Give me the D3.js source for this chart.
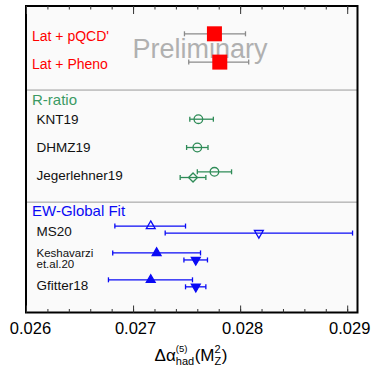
<!DOCTYPE html>
<html>
<head>
<meta charset="utf-8">
<script src="https://cdn.jsdelivr.net/npm/d3@7"></script>
<style>
  body { margin: 0; background: #fff; }
  svg { display: block; font-family: "Liberation Sans", Arial, Helvetica, sans-serif; }
</style>
</head>
<body>
<svg id="chart" width="375" height="368"></svg>
<script>
// lattice results
const latLabels = ["Lat + pQCD'", "Lat + Pheno"];
const latVal = [0.02776, 0.02781];
const latLo = [0.02748, 0.02752];
const latHi = [0.02805, 0.02808];

// R-ratio (circles) + Jegerlehner alternative (diamond)
const rLabels = ['KNT19', 'DHMZ19', 'Jegerlehner19'];
const rVal = [0.02761, 0.02760, 0.02776];
const rLo = [0.02753, 0.02750, 0.02760];
const rHi = [0.02775, 0.02770, 0.02792];
const jegAltVal = 0.02756;
const jegAltLo = 0.02744;
const jegAltHi = 0.02768;

// EW global fits: up triangles and down triangles
const ewLabels = [['MS20'], ['Keshavarzi', 'et.al.20'], ['Gfitter18']];
const ewUpVal = [0.027165, 0.02722, 0.027165];
const ewUpLo = [0.02683, 0.02681, 0.02677];
const ewUpHi = [0.02749, 0.02763, 0.027555];
const ewDownVal = [0.028175, 0.027586, 0.027586];
const ewDownLo = [0.02730, 0.027475, 0.02749];
const ewDownHi = [0.02905, 0.027695, 0.02768];

const xTicksMajor = [0.026, 0.027, 0.028, 0.029];

const red = '#ff0000', green = '#2e8b57', blue = '#0a0af5', gray = '#8a8a8a';

const svg = d3.select('#chart');
const frame = {left: 26, right: 357.5, top: 6, bottom: 312.5};

const x = d3.scaleLinear().domain([0.026, 0.0291]).range([26, 357.9]);
// vertical layout in "row" units
const y = d3.scaleLinear().domain([0, 10.83]).range([frame.top, frame.bottom]);

svg.append('rect')
  .attr('x', frame.left).attr('y', frame.top)
  .attr('width', frame.right - frame.left).attr('height', frame.bottom - frame.top)
  .attr('fill', '#fafafa');

// separators
[2.97, 6.93].forEach(r => {
  svg.append('line')
    .attr('x1', frame.left).attr('x2', frame.right)
    .attr('y1', y(r)).attr('y2', y(r))
    .attr('stroke', '#9a9a9a').attr('stroke-width', 1);
});

// watermark
svg.append('text')
  .attr('x', 200).attr('y', 58)
  .attr('text-anchor', 'middle')
  .attr('font-size', 27)
  .attr('fill', '#b0b0b0')
  .text('Preliminary');

function errBar(v, lo, hi, yy, color) {
  const g = svg.append('g').attr('stroke', color).attr('stroke-width', 1.3).attr('fill', 'none');
  g.append('line').attr('x1', x(lo)).attr('x2', x(hi)).attr('y1', yy).attr('y2', yy);
  g.append('line').attr('x1', x(lo)).attr('x2', x(lo)).attr('y1', yy - 2.5).attr('y2', yy + 2.5);
  g.append('line').attr('x1', x(hi)).attr('x2', x(hi)).attr('y1', yy - 2.5).attr('y2', yy + 2.5);
}

function symbol(type, size, v, yy, color, filled, rot) {
  svg.append('path')
    .attr('d', d3.symbol().type(type).size(size)())
    .attr('transform', `translate(${x(v)},${yy}) rotate(${rot || 0})`)
    .attr('fill', filled ? color : 'none')
    .attr('stroke', color)
    .attr('stroke-width', 1.3);
}

function label(lines, xx, yy, color, size) {
  if (lines.length === 1) {
    svg.append('text')
      .attr('x', xx).attr('y', yy)
      .attr('fill', color).attr('font-size', size)
      .attr('dominant-baseline', 'central')
      .text(lines[0]);
  } else {
    // stacked lines as separate texts
    lines.forEach((l, i) => {
      svg.append('text')
        .attr('x', xx).attr('y', yy - 5.5 + i * 11.3)
        .attr('fill', color).attr('font-size', size)
        .attr('dominant-baseline', 'central')
        .text(l);
    });
  }
}

// lattice block
latLabels.forEach((l, i) => {
  const yy = y(1 + i);
  label([l], 32, yy + 1.5, red, 14);
  errBar(latVal[i], latLo[i], latHi[i], yy - 0.5, gray);
  svg.append('rect')
    .attr('x', x(latVal[i]) - 7.5).attr('y', yy - 8)
    .attr('width', 15).attr('height', 15)
    .attr('fill', red);
});

// R-ratio block
label(['R-ratio'], 32, y(3.32), '#3a9a64', 15);
rLabels.forEach((l, i) => {
  const yy = y(4 + i);
  label([l], 36.5, yy, '#111', 13.5);
  const my = i === 2 ? yy - 4 : yy;
  errBar(rVal[i], rLo[i], rHi[i], my, green);
  svg.append('circle')
    .attr('cx', x(rVal[i])).attr('cy', my).attr('r', 4.3)
    .attr('fill', 'none').attr('stroke', green).attr('stroke-width', 1.3);
});
errBar(jegAltVal, jegAltLo, jegAltHi, y(6) + 1.7, green);
symbol(d3.symbolSquare, 40, jegAltVal, y(6) + 1.7, green, false, 45);

// EW block
label(['EW-Global Fit'], 32, y(7.24), blue, 15);
ewLabels.forEach((l, i) => {
  const yy = y(7.97 + i * 0.95);
  label(l, 36.5, yy, '#111', l.length > 1 ? 11.5 : 13.5);
  const filled = i > 0;
  const yu = yy - 5.5, yd = yy + 1.5;
  errBar(ewUpVal[i], ewUpLo[i], ewUpHi[i], yu, blue);
  symbol(d3.symbolTriangle, 34, ewUpVal[i], yu, blue, filled, 0);
  errBar(ewDownVal[i], ewDownLo[i], ewDownHi[i], yd, blue);
  symbol(d3.symbolTriangle, 34, ewDownVal[i], yd, blue, filled, 180);
});

// frame
svg.append('rect')
  .attr('x', frame.left).attr('y', frame.top)
  .attr('width', frame.right - frame.left).attr('height', frame.bottom - frame.top)
  .attr('fill', 'none').attr('stroke', '#000').attr('stroke-width', 2);

// axes: minor + major ticks, bottom and top
const minorTicks = d3.range(0.0262, 0.02905, 0.0002);
function tickAxis(gen, yy, size, vals) {
  const g = svg.append('g').attr('transform', `translate(0,${yy})`)
    .call(gen(x).tickValues(vals).tickSize(size).tickFormat(''));
  g.select('.domain').remove();
  g.selectAll('line').attr('stroke', '#333');
  return g;
}
tickAxis(d3.axisBottom, frame.bottom, -3.5, minorTicks);
tickAxis(d3.axisTop, frame.top, -3.5, minorTicks);
tickAxis(d3.axisTop, frame.top, -8, xTicksMajor);

const xAxis = svg.append('g')
  .attr('transform', `translate(0,${frame.bottom})`)
  .call(d3.axisBottom(x).tickValues(xTicksMajor).tickSize(-7).tickPadding(10).tickFormat(d3.format('.3f')));
xAxis.select('.domain').remove();
xAxis.selectAll('line').attr('stroke', '#333');
xAxis.selectAll('text')
  .attr('font-size', 16.5)
  .attr('fill', '#000')
  .attr('font-family', '"Liberation Sans", Arial, sans-serif')
  .attr('dx', (d, i) => i === 0 ? 4 : 2);

// axis title: Δα_had^(5)(M_Z^2)
const title = svg.append('g');
const base = 361;
let cx = 0;
function piece(str, size, dy) {
  const t = title.append('text').attr('x', cx).attr('y', base + dy).attr('font-size', size).text(str);
  return t.node().getComputedTextLength();
}
cx += piece('\u0394\u03b1', 17, 0);
const w1 = piece('(5)', 9.5, -9);
const w2 = piece('had', 11, 4);
cx += Math.max(w1, w2) + 0.5;
cx += piece('(M', 17, 0);
const w3 = piece('2', 11, -8);
const w4 = piece('Z', 11, 4);
cx += Math.max(w3, w4) + 0.5;
cx += piece(')', 17, 0);
title.attr('transform', `translate(${191 - cx / 2},0)`);
</script>
</body>
</html>
